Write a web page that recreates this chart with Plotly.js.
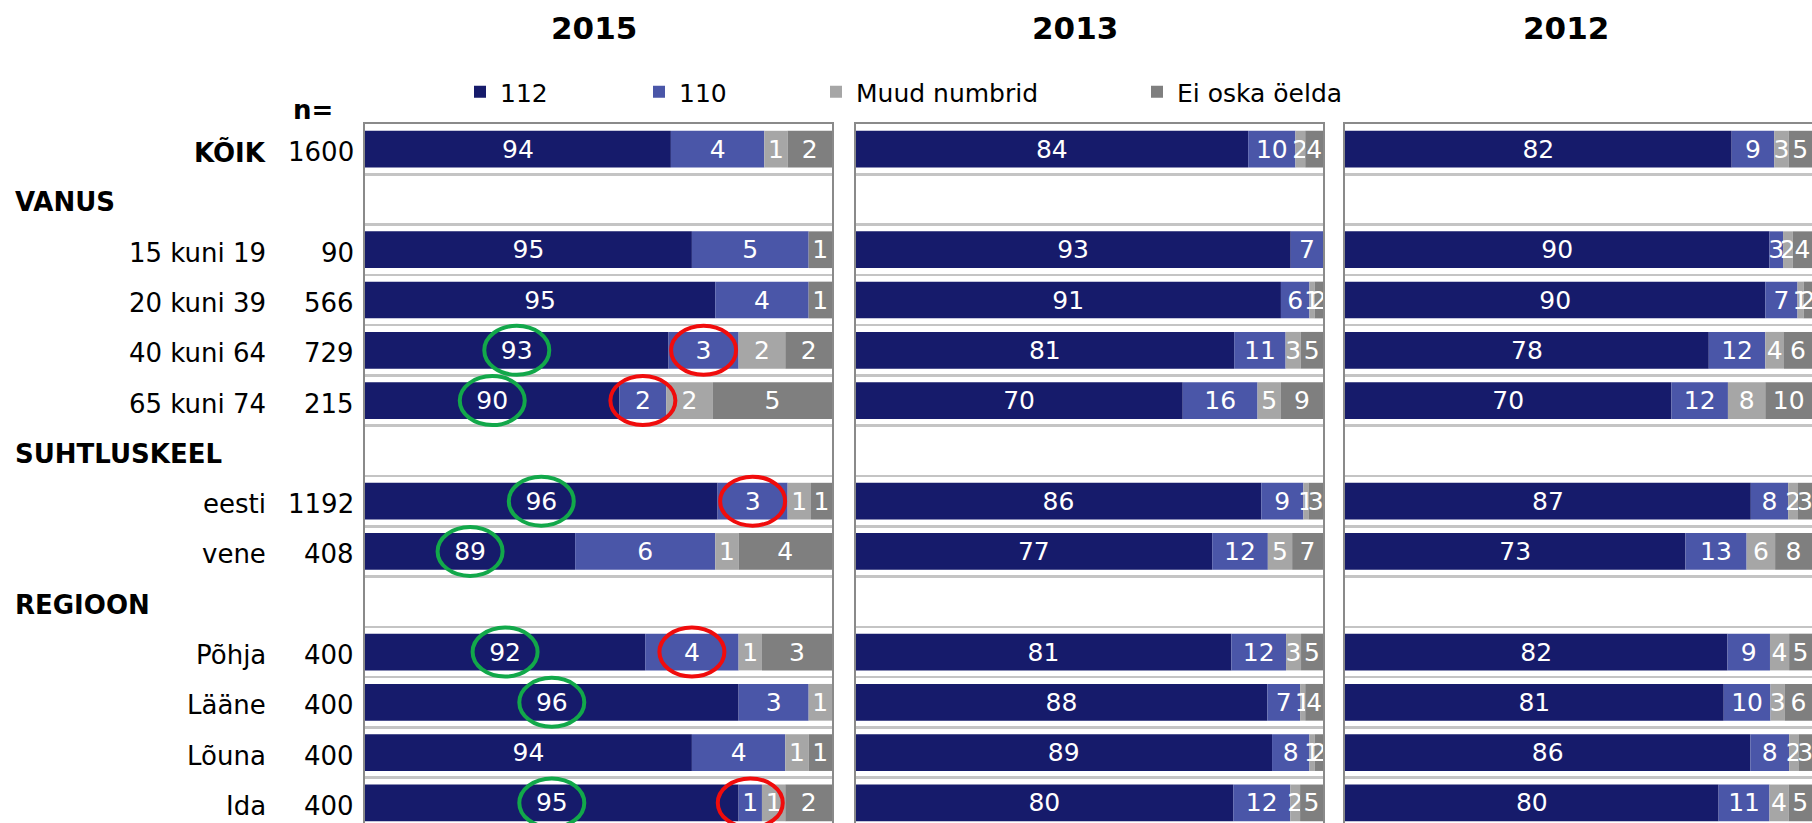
<!DOCTYPE html>
<html>
<head>
<meta charset="utf-8">
<script src="https://cdn.plot.ly/plotly-3.0.1.min.js"></script>
<style>
html, body { margin: 0; padding: 0; background: #ffffff; }
#chart { width: 1812px; height: 823px; }
</style>
</head>
<body>
<div id="chart"></div>
<script>
// ---------------- DATA ----------------
const categories = ["KÕIK", "VANUS", "15 kuni 19", "20 kuni 39", "40 kuni 64", "65 kuni 74",
  "SUHTLUSKEEL", "eesti", "vene", "REGIOON", "Põhja", "Lääne", "Lõuna", "Ida"];
const groupHeaders = ["VANUS", "SUHTLUSKEEL", "REGIOON"];
const rows = ["KÕIK", "15 kuni 19", "20 kuni 39", "40 kuni 64", "65 kuni 74",
  "eesti", "vene", "Põhja", "Lääne", "Lõuna", "Ida"];
const nValues = [1600, 90, 566, 729, 215, 1192, 408, 400, 400, 400, 400];
const years = ["2015", "2013", "2012"];
const seriesNames = ["112", "110", "Muud numbrid", "Ei oska öelda"];

// bar lengths (%)
const v112_2015 = [93.1, 94.0, 95.0, 93.0, 90.9, 95.1, 89.0, 92.0, 96.0, 94.0, 96.0];
const v110_2015 = [4.0, 5.0, 4.0, 3.0, 2.0, 3.0, 6.0, 4.0, 3.0, 4.0, 1.0];
const vMuud_2015 = [1.0, 0, 0, 2.0, 2.0, 1.0, 1.0, 1.0, 1.0, 1.0, 1.0];
const vEi_2015 = [1.9, 1.0, 1.0, 2.0, 5.1, 0.9, 4.0, 3.0, 0, 1.0, 2.0];

const v112_2013 = [84.0, 93.1, 91.0, 81.0, 70.0, 86.8, 76.3, 80.4, 88.1, 89.1, 80.8];
const v110_2013 = [10.1, 6.9, 6.1, 11.0, 16.0, 9.0, 11.9, 11.7, 7.0, 8.0, 12.2];
const vMuud_2013 = [2.1, 0, 1.1, 3.2, 5.0, 1.1, 5.2, 3.2, 1.1, 1.1, 2.1];
const vEi_2013 = [3.8, 0, 1.8, 4.8, 9.0, 3.1, 6.6, 4.7, 3.8, 1.8, 4.9];

const v112_2012 = [82.8, 90.9, 90.0, 77.9, 69.9, 86.9, 72.9, 81.9, 81.1, 86.8, 80.0];
const v110_2012 = [9.1, 2.9, 6.9, 12.1, 12.1, 8.0, 13.1, 9.1, 10.0, 8.3, 10.9];
const vMuud_2012 = [3.1, 2.1, 1.3, 4.0, 8.0, 2.1, 6.1, 4.1, 3.1, 2.0, 4.1];
const vEi_2012 = [5.0, 4.1, 1.8, 6.0, 10.0, 3.0, 7.9, 4.9, 5.8, 2.9, 5.0];

// printed data labels
const L112_2015 = [94, 95, 95, 93, 90, 96, 89, 92, 96, 94, 95];
const L110_2015 = [4, 5, 4, 3, 2, 3, 6, 4, 3, 4, 1];
const LMuud_2015 = [1, null, null, 2, 2, 1, 1, 1, 1, 1, 1];
const LEi_2015 = [2, 1, 1, 2, 5, 1, 4, 3, null, 1, 2];

const L112_2013 = [84, 93, 91, 81, 70, 86, 77, 81, 88, 89, 80];
const L110_2013 = [10, 7, 6, 11, 16, 9, 12, 12, 7, 8, 12];
const LMuud_2013 = [2, null, 1, 3, 5, 1, 5, 3, 1, 1, 2];
const LEi_2013 = [4, null, 2, 5, 9, 3, 7, 5, 4, 2, 5];

const L112_2012 = [82, 90, 90, 78, 70, 87, 73, 82, 81, 86, 80];
const L110_2012 = [9, 3, 7, 12, 12, 8, 13, 9, 10, 8, 11];
const LMuud_2012 = [3, 2, 1, 4, 8, 2, 6, 4, 3, 2, 4];
const LEi_2012 = [5, 4, 2, 6, 10, 3, 8, 5, 6, 3, 5];

// highlighted labels in the 2015 panel
const greenMarked = ["40 kuni 64", "65 kuni 74", "eesti", "vene", "Põhja", "Lääne", "Ida"];
const redMarked = ["40 kuni 64", "65 kuni 74", "eesti", "Põhja", "Ida"];

// ---------------- STYLE / LAYOUT ----------------
const W = 1812, H = 823, TOP = 124;
const FONT = "DejaVu Sans, Verdana, sans-serif";
const colors = ["#161b6b", "#4a56a8", "#a6a6a6", "#7f7f7f"];
const panelPx = [[365, 832], [855.5, 1323], [1345, 1812]];
const xRanges = [[80, 100], [0, 100], [0, 100]];
const yRange = [13.4, -0.5];

const values = [
  [v112_2015, v110_2015, vMuud_2015, vEi_2015],
  [v112_2013, v110_2013, vMuud_2013, vEi_2013],
  [v112_2012, v110_2012, vMuud_2012, vEi_2012]
];
const labels = [
  [L112_2015, L110_2015, LMuud_2015, LEi_2015],
  [L112_2013, L110_2013, LMuud_2013, LEi_2013],
  [L112_2012, L110_2012, LMuud_2012, LEi_2012]
];

const traces = [];
const segMid = [];
values.forEach((panel, p) => {
  const xmin = xRanges[p][0];
  let ends = rows.map(() => 0);
  segMid[p] = [];
  panel.forEach((vals, s) => {
    const starts = vals.map((v, i) => s === 0 ? xmin : ends[i]);
    const lens = vals.map((v, i) => s === 0 ? v - xmin : v);
    ends = starts.map((st, i) => st + lens[i]);
    segMid[p][s] = starts.map((st, i) => st + lens[i] / 2);
    const ax = p === 0 ? "" : String(p + 1);
    traces.push({
      type: "bar",
      orientation: "h",
      name: seriesNames[s],
      y: rows,
      x: lens,
      base: starts,
      xaxis: "x" + ax,
      yaxis: "y" + ax,
      marker: { color: colors[s], line: { width: 0 } },
      text: labels[p][s].map(l => (l === null ? "" : String(l))),
      textposition: "inside",
      insidetextanchor: "middle",
      textangle: 0,
      constraintext: "none",
      insidetextfont: { family: FONT, size: 25, color: "#ffffff" },
      cliponaxis: true,
      hoverinfo: "skip",
      showlegend: p === 0,
      legend: s === 0 ? "legend" : "legend" + (s + 1)
    });
  });
});

const layout = {
  width: W, height: H,
  margin: { l: 0, r: 0, t: TOP, b: 0, pad: 0 },
  paper_bgcolor: "#ffffff",
  plot_bgcolor: "#ffffff",
  barmode: "overlay",
  bargap: 0.27,
  font: { family: FONT, size: 25, color: "#000000" },
  showlegend: true,
  annotations: [],
  shapes: []
};

const legendLeftPx = [460, 639, 816, 1137];
legendLeftPx.forEach((px, s) => {
  const key = s === 0 ? "legend" : "legend" + (s + 1);
  layout[key] = {
    orientation: "h",
    xref: "container", yref: "container",
    x: px / W, y: 1 - 92 / H,
    xanchor: "left", yanchor: "middle",
    bgcolor: "rgba(0,0,0,0)", borderwidth: 0,
    itemwidth: 30,
    font: { family: FONT, size: 25, color: "#000000" }
  };
});

panelPx.forEach((px, p) => {
  const ax = p === 0 ? "" : String(p + 1);
  layout["xaxis" + ax] = {
    domain: [px[0] / W, px[1] / W],
    range: xRanges[p],
    anchor: "y" + ax,
    side: "top",
    showgrid: false, zeroline: false,
    showticklabels: false, ticks: "",
    showline: true, linecolor: "#8a8a8a", linewidth: 2, mirror: false,
    fixedrange: true
  };
  layout["yaxis" + ax] = {
    type: "category",
    categoryorder: "array",
    categoryarray: categories,
    range: yRange,
    domain: [0, 1],
    anchor: "x" + ax,
    showticklabels: false, ticks: "",
    tickson: "boundaries",
    showgrid: true, gridcolor: "#c4c4c4", gridwidth: 2.5,
    zeroline: false,
    showline: true, linecolor: "#8a8a8a", linewidth: 2, mirror: true,
    fixedrange: true
  };
  layout.annotations.push({
    text: "<b>" + years[p] + "</b>",
    xref: "paper", yref: "paper",
    x: [593.5, 1075, 1566][p] / W,
    y: (H - 28) / (H - TOP),
    xanchor: "center", yanchor: "middle",
    showarrow: false,
    font: { family: FONT, size: 31, color: "#000000" }
  });
});

categories.forEach((c, idx) => {
  const isHeader = groupHeaders.includes(c);
  const bold = isHeader || c === "KÕIK";
  layout.annotations.push({
    text: bold ? "<b>" + c + "</b>" : c,
    xref: "paper", yref: "y",
    x: isHeader ? 13 / W : 268 / W,
    y: idx,
    xanchor: isHeader ? "left" : "right",
    yanchor: "middle",
    yshift: -3,
    showarrow: false,
    font: { family: FONT, size: 26, color: "#000000" }
  });
});

rows.forEach((r, i) => {
  layout.annotations.push({
    text: String(nValues[i]),
    xref: "paper", yref: "y",
    x: 356 / W,
    y: categories.indexOf(r),
    xanchor: "right", yanchor: "middle",
    yshift: -3,
    showarrow: false,
    font: { family: FONT, size: 26, color: "#000000" }
  });
});
layout.annotations.push({
  text: "<b>n=</b>",
  xref: "paper", yref: "paper",
  x: 313 / W, y: (H - 110) / (H - TOP),
  xanchor: "center", yanchor: "middle",
  showarrow: false,
  font: { family: FONT, size: 26, color: "#000000" }
});

function ring(rowName, s, color) {
  const i = rows.indexOf(rowName);
  layout.shapes.push({
    type: "circle",
    xref: "x", yref: "y",
    xsizemode: "pixel", ysizemode: "pixel",
    xanchor: segMid[0][s][i], yanchor: categories.indexOf(rowName),
    x0: -32.5, x1: 32.5, y0: -24.5, y1: 24.5,
    line: { color: color, width: 4 },
    fillcolor: "rgba(0,0,0,0)",
    layer: "above"
  });
}
greenMarked.forEach(r => ring(r, 0, "#12a84a"));
redMarked.forEach(r => ring(r, 1, "#f00c0c"));

Plotly.newPlot("chart", traces, layout, { staticPlot: true, displayModeBar: false });
</script>
</body>
</html>
